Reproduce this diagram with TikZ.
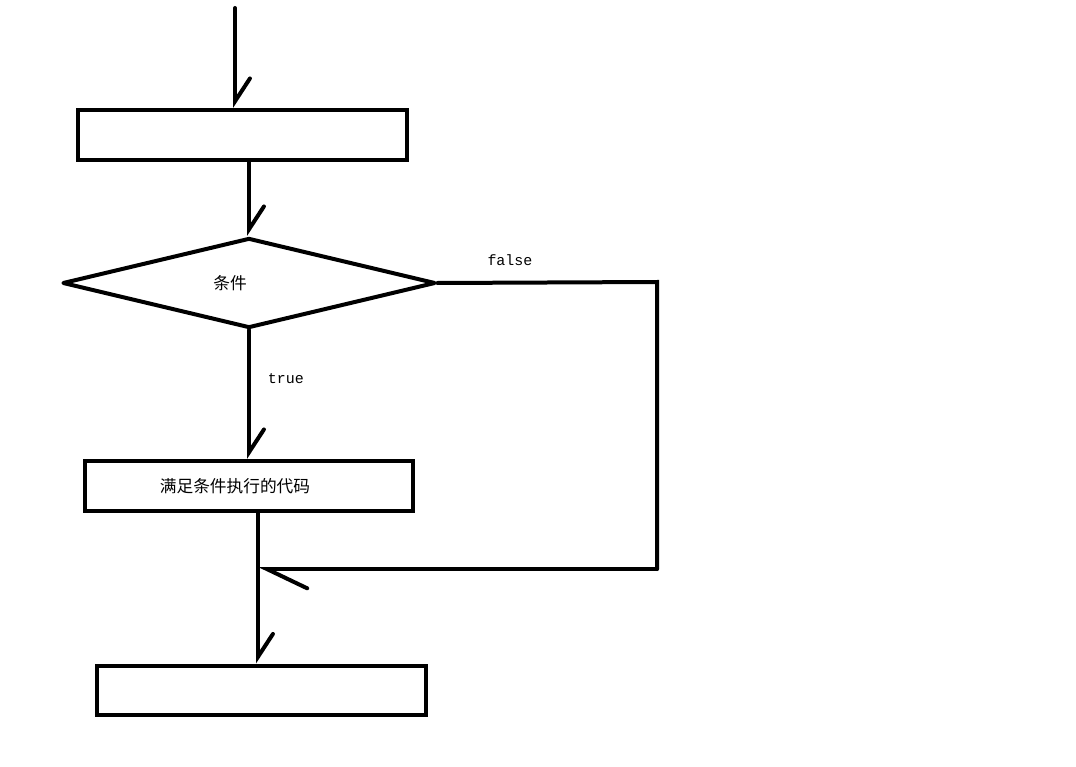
\documentclass[tikz,border=0pt]{standalone}
\usepackage{fontspec}
\newfontfamily\cjkfont{Noto Sans CJK SC}
\setmonofont{Liberation Mono}
\usetikzlibrary{arrows.meta,shapes.geometric}

\tikzset{
  box/.style={draw, line width=0.08cm, minimum width=6.58cm, minimum height=1cm, inner sep=0pt, font=\cjkfont\fontsize{9.5}{11}\selectfont},
  cond/.style={draw, diamond, line width=0.08cm, line join=round, minimum width=7.46cm, minimum height=1.8cm, inner sep=0pt, font=\cjkfont\fontsize{9.5}{11}\selectfont},
  flow/.style={line width=0.08cm, line cap=round, -{Straight Barb[left, length=13pt, width=17pt, line cap=round]}},
  edgelabel/.style={inner sep=0pt, font=\ttfamily\fontsize{8.5}{10}\selectfont}
}

\begin{document}
\begin{tikzpicture}[x=0.02cm, y=-0.02cm]
  \fill[white] (0,0) rectangle (1076,767);
  \useasboundingbox (0,0) rectangle (1076,767);

  % boxes and the test
  \node[box] (first) at (242.5,135) {};
  \node[cond] (test) at (249,283) {\hspace*{-0.76cm}条件};
  \node[box] (body) at (249,486) {\raisebox{-3pt}{\hspace*{-0.56cm}满足条件执行的代码}};
  \node[box] (next) at (261.5,690.5) {};

  \coordinate (entry) at (235,8);
  \coordinate (falsecorner) at (657,282);
  \coordinate (join) at (258,569);

  % arrows
  \draw[flow] (entry) -- (entry |- first.north);
  \draw[flow] (test.north |- first.south) -- (test.north);
  \draw[flow] (test.south) -- node[edgelabel, pos=0.38, right=0.34cm] {true} (test.south |- body.north);
  \draw[flow] (join |- body.south) -- (join |- next.north);
  \draw[line width=0.08cm, line cap=round] (test.east) -- node[edgelabel, pos=0.33, above=0.3cm] {false} (falsecorner) -- (falsecorner |- join);
  \draw[flow, -{Straight Barb[left, length=23pt, width=22pt, line cap=round]}] (falsecorner |- join) -- (join);
\end{tikzpicture}
\end{document}
